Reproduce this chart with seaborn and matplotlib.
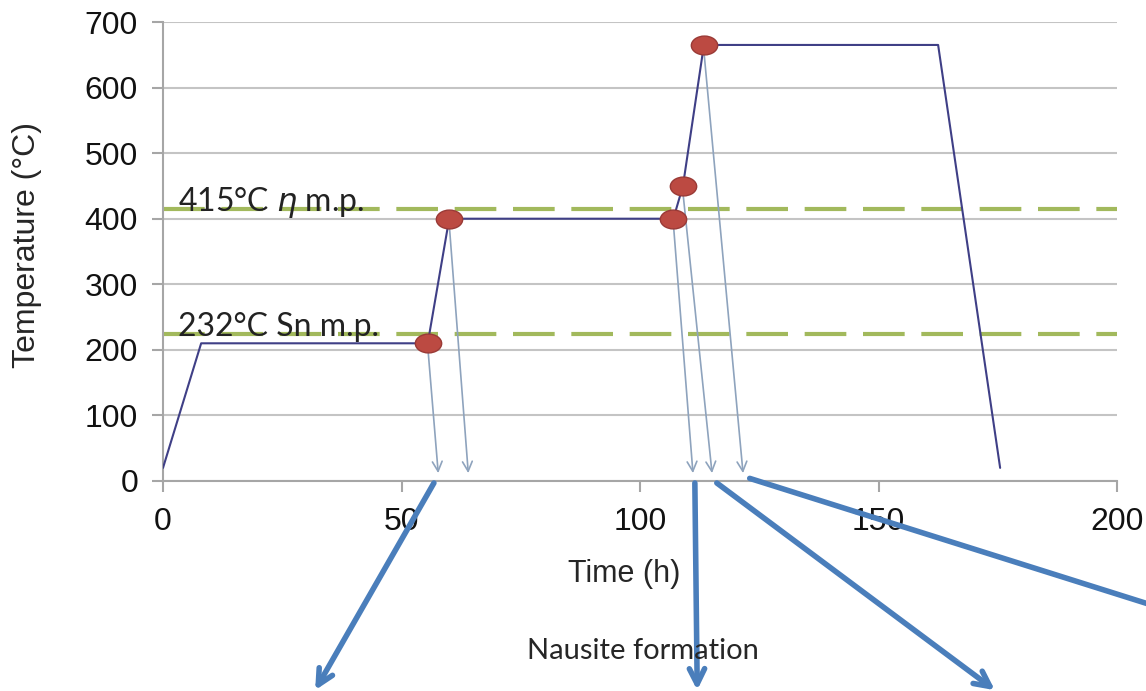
import numpy as np
import pandas as pd
import matplotlib.pyplot as plt
from matplotlib.path import Path
from matplotlib.transforms import Affine2D
import seaborn as sns

# heat-treatment profile (time in h, temperature in C)
time_h = [0, 8, 55.5, 60, 107, 109, 113.4, 162.5, 175.5]
temp_c = [20, 210, 210, 400, 400, 450, 665, 665, 20]

# sampling points (red dots)
sample_t = [55.5, 60, 107, 109, 113.4]
sample_T = [210, 400, 400, 450, 665]

# melting point reference lines
melt_T = [415, 224]
melt_labels = ["415°C $\\eta$ m.p.", "232°C Sn m.p."]

# thin arrows from each sample down to the time axis
thin_end_t = [57.7, 64.0, 111.1, 115.1, 121.6]
thin_start_T = [205, 392, 392, 440, 655]
thin_end_T = [12, 12, 12, 12, 12]

# thick callout arrows below the chart
thick_start_t = [56.8, 111.5, 116.1, 123.0]
thick_start_T = [-3, -3, -3, 4]
thick_end_t = [31.9, 112.0, 174.4, 212.0]
thick_end_T = [-319, -319, -319, -200]

sns.set_style("white")
plt.rcParams["font.family"] = ["Liberation Sans", "DejaVu Sans"]

fig = plt.figure(figsize=(11.46, 6.91), dpi=100)
ax = fig.add_axes([163 / 1146, 1 - 481 / 691, 954 / 1146, 459 / 691])

ax.set_xlim(0, 200)
ax.set_ylim(0, 700)
ax.set_xticks([0, 50, 100, 150, 200])
ax.set_yticks(range(0, 701, 100))
ax.grid(axis="y", color="#c4c4c4", lw=1.5)
ax.set_axisbelow(True)
sns.despine(ax=ax)
for s in ["left", "bottom"]:
    ax.spines[s].set_color("#a6a6a6")
    ax.spines[s].set_linewidth(1.5)
ax.tick_params(axis="both", labelsize=23, colors="#a6a6a6", labelcolor="#111111",
               length=8, width=1.5, direction="out")
ax.tick_params(axis="y", pad=10)
ax.tick_params(axis="x", pad=11)
ax.yaxis.set_ticks_position("left")
ax.xaxis.set_ticks_position("bottom")

# melting lines and labels
for T, lab in zip(melt_T, melt_labels):
    ax.axhline(T, color="#a2b95c", lw=3, dashes=(10, 4), zorder=2)
    ax.text(3.1, T - 3, lab, fontsize=23, family=["Lato", "DejaVu Sans"],
            va="baseline", ha="left", color="#222222", zorder=3)

# profile line
prof = pd.DataFrame({"t": time_h, "T": temp_c})
sns.lineplot(data=prof, x="t", y="T", sort=False, color="#3f3f86", lw=1.5,
             ax=ax, zorder=4)

# thin arrows
for t0, T0, t1, T1 in zip(sample_t, thin_start_T, thin_end_t, thin_end_T):
    ax.annotate("", xy=(t1, T1), xytext=(t0, T0),
                arrowprops=dict(arrowstyle="->,head_length=0.7,head_width=0.35",
                                color="#8ea3bd", lw=1.2, shrinkA=0, shrinkB=0),
                zorder=3)

# sample markers as ellipses
ell = Path.unit_circle().transformed(Affine2D().scale(1.4, 1.0))
pts = pd.DataFrame({"t": sample_t, "T": sample_T})
sns.scatterplot(data=pts, x="t", y="T", marker=ell, s=360, color="#bc4a42",
                edgecolor="#9a3a36", linewidth=1, ax=ax, zorder=5)

ax.set_xlabel("Time (h)", fontsize=22)
ax.set_ylabel("Temperature (°C)", fontsize=23)
ax.xaxis.set_label_coords(0.483, -0.17)
ax.yaxis.set_label_coords(-0.127, 0.514)

# thick callout arrows
for t0, T0, t1, T1 in zip(thick_start_t, thick_start_T, thick_end_t, thick_end_T):
    ax.annotate("", xy=(t1, T1), xytext=(t0, T0), annotation_clip=False,
                arrowprops=dict(arrowstyle="->,head_length=1.1,head_width=0.55",
                                color="#4a7ebb", lw=4, shrinkA=0, shrinkB=0))

fig.text(643 / 1146, 1 - 651 / 691, "Nausite formation", fontsize=21,
         family=["Lato", "DejaVu Sans"], ha="center", va="center")

fig.savefig("out.png", dpi=100)
